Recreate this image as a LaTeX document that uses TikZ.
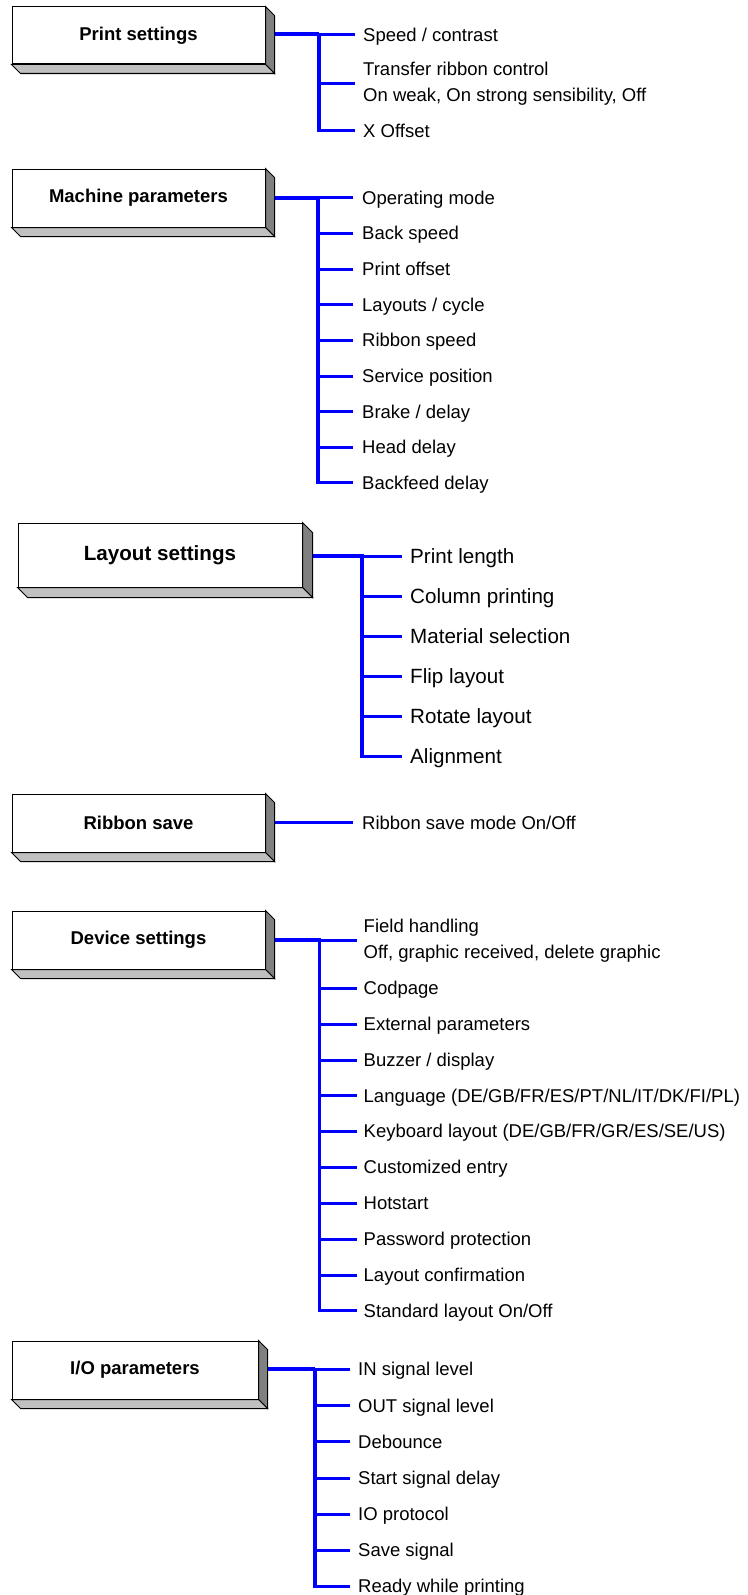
\documentclass[tikz,border=0pt]{standalone}
\usepackage{fontspec}
\setmainfont{Liberation Sans}
\usetikzlibrary{calc}
\definecolor{sidec}{HTML}{808080}
\definecolor{botc}{HTML}{C0C0C0}
\definecolor{lineblue}{HTML}{0000FF}
\newcommand{\sfs}{\fontsize{18.5}{22}\selectfont}
\newcommand{\lfs}{\fontsize{20.6}{24}\selectfont}
\newcommand{\bevel}[2]{%
  \draw[face,fill=sidec] (#1.north east) -- ($(#1.north east)+(#2,#2)$) -- ($(#1.south east)+(#2,#2)$) -- (#1.south east) -- cycle;
  \draw[face,fill=botc] (#1.south west) -- ($(#1.south west)+(#2,#2)$) -- ($(#1.south east)+(#2,#2)$) -- (#1.south east) -- cycle;}
\begin{document}
\begin{tikzpicture}[x=1pt,y=-1pt,
  box/.style={draw=black,line width=1pt,fill=white,inner sep=0pt,font=\bfseries\sfs},
  face/.style={draw=black,line width=1pt,line join=miter},
  main/.style={draw=lineblue,line width=4pt},
  trunk/.style={draw=lineblue,line width=3.3pt,line cap=rect},
  branch/.style={draw=lineblue,line width=3pt},
  item/.style={anchor=base west,inner sep=0pt,font=\sfs},
  litem/.style={anchor=base west,inner sep=0pt,font=\lfs}]
\useasboundingbox[fill=white] (0,0) rectangle (747,1595);

% ---------- Block 1: Print settings
\node[box,minimum width=253pt,minimum height=57pt] (b1) at (138.5,35.5) {Print settings};
\bevel{b1}{9}
\coordinate (h1) at (319,34.5);
\coordinate (s1) at ($(b1.east)+(9,0)$);
\coordinate (l1) at (355,130.5);
\draw[main] (s1 |- h1) -- (h1);
\draw[trunk] (h1) -- (h1 |- l1);
\foreach \i/\y in {1/34.5,2/83.3,3/130.5}{
  \coordinate (e1\i) at (355,\y);
  \draw[branch] (h1 |- e1\i) -- (e1\i);
}
\node[item] (i11) at (363,41.3) {Speed / contrast};
\node[item] (i12) at (363,75.9) {\vtop{\baselineskip=25.7pt\hbox{Transfer ribbon control}\hbox{On weak, On strong sensibility, Off}}};
\node[item] (i13) at (363,137.1) {X Offset};

% ---------- Block 2: Machine parameters
\node[box,minimum width=253pt,minimum height=58pt] (b2) at (138.5,198) {Machine parameters};
\bevel{b2}{9}
\coordinate (h2) at (318,197.7);
\coordinate (s2) at ($(b2.east)+(9,0)$);
\coordinate (l2) at (353,482.7);
\draw[main] (s2 |- h2) -- (h2);
\draw[trunk] (h2) -- (h2 |- l2);
\foreach \y/\t [count=\i] in {197.7/{Operating mode},233.3/{Back speed},269/{Print offset},304.7/{Layouts / cycle},340.3/{Ribbon speed},376/{Service position},411.7/{Brake / delay},447.3/{Head delay},482.7/{Backfeed delay}}{
  \coordinate (e2\i) at (353,\y);
  \draw[branch] (h2 |- e2\i) -- (e2\i);
  \node[item] (i2\i) at (362,\y+6.6) {\t};
}

% ---------- Block 3: Layout settings
\node[box,font=\bfseries\lfs,minimum width=284pt,minimum height=64pt] (b3) at (160,555) {Layout settings};
\bevel{b3}{10}
\coordinate (h3) at (362,556);
\coordinate (s3) at ($(b3.east)+(10,0)$);
\coordinate (l3) at (402,756);
\draw[main] (s3 |- h3) -- (h3);
\draw[trunk] (h3) -- (h3 |- l3);
\foreach \y/\t [count=\i] in {556/{Print length},596/{Column printing},636/{Material selection},676/{Flip layout},716/{Rotate layout},756/{Alignment}}{
  \coordinate (e3\i) at (402,\y);
  \draw[branch] (h3 |- e3\i) -- (e3\i);
  \node[litem] (i3\i) at (410,\y+7.4) {\t};
}

% ---------- Block 4: Ribbon save
\node[box,minimum width=253pt,minimum height=58pt] (b4) at (138.5,823) {Ribbon save};
\bevel{b4}{9}
\coordinate (s4) at ($(b4.east)+(9,0)$);
\coordinate (e41) at (353,822.7);
\draw[branch,line width=3.3pt] (s4 |- e41) -- (e41);
\node[item] (i41) at (362,829.3) {Ribbon save mode On/Off};

% ---------- Block 5: Device settings
\node[box,minimum width=253pt,minimum height=58pt] (b5) at (138.5,940) {Device settings};
\bevel{b5}{9}
\coordinate (h5) at (319.5,940);
\coordinate (s5) at ($(b5.east)+(9,0)$);
\coordinate (l5) at (356.5,1310.7);
\draw[main] (s5 |- h5) -- (h5);
\draw[trunk] (h5) -- (h5 |- l5);
\coordinate (e51) at (356.5,940);
\draw[branch] (h5 |- e51) -- (e51);
\node[item] (i51) at (363.5,932.3) {\vtop{\baselineskip=26pt\hbox{Field handling}\hbox{Off, graphic received, delete graphic}}};
\foreach \y/\t [count=\i from 2] in {988.3/{Codpage},1024.3/{External parameters},1060/{Buzzer / display},1095.7/{Language (DE/GB/FR/ES/PT/NL/IT/DK/FI/PL)},1131/{Keyboard layout (DE/GB/FR/GR/ES/SE/US)},1167.3/{Customized entry},1203.3/{Hotstart},1239.3/{Password protection},1275/{Layout confirmation},1310.7/{Standard layout On/Off}}{
  \coordinate (e5\i) at (356.5,\y);
  \draw[branch] (h5 |- e5\i) -- (e5\i);
  \node[item] (i5\i) at (363.5,\y+6.6) {\t};
}

% ---------- Block 6: I/O parameters
\node[box,minimum width=246pt,minimum height=58pt] (b6) at (135,1370) {I/O parameters};
\bevel{b6}{9}
\coordinate (h6) at (315,1369.3);
\coordinate (s6) at ($(b6.east)+(9,0)$);
\coordinate (l6) at (350,1586);
\draw[main] (s6 |- h6) -- (h6);
\draw[trunk] (h6) -- (h6 |- l6);
\foreach \y/\t [count=\i] in {1369.3/{IN signal level},1405.7/{OUT signal level},1441.7/{Debounce},1478.3/{Start signal delay},1514/{IO protocol},1550.3/{Save signal},1586/{Ready while printing}}{
  \coordinate (e6\i) at (350,\y);
  \draw[branch] (h6 |- e6\i) -- (e6\i);
  \node[item] (i6\i) at (358,\y+6.6) {\t};
}
\end{tikzpicture}
\end{document}
